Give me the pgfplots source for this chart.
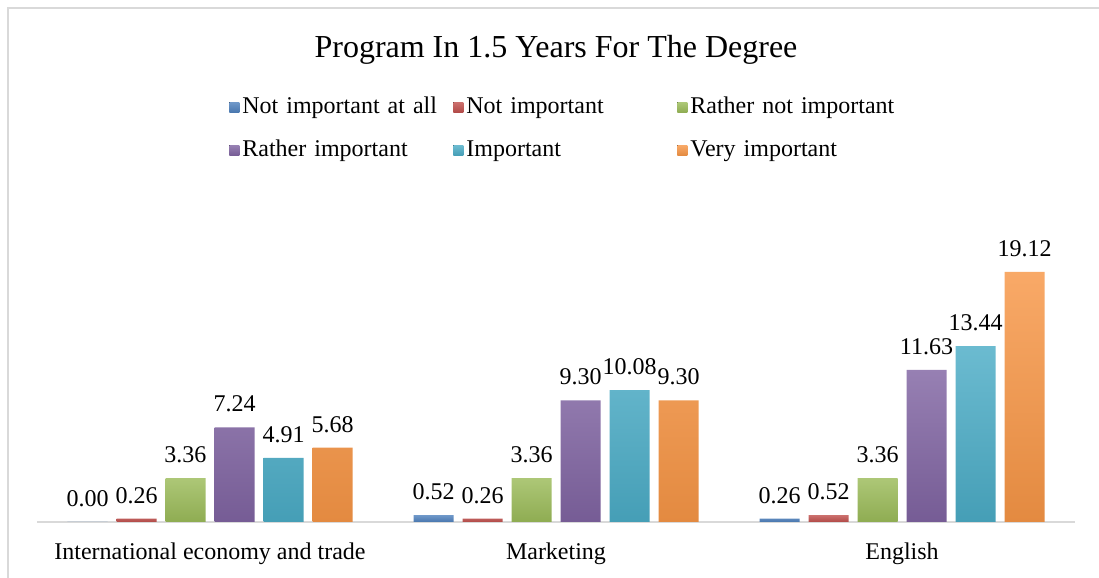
\documentclass[border=0pt]{standalone}
\usepackage{pgfplots}
\pgfplotsset{compat=1.18}
\usepackage{fontspec}
\setmainfont{Liberation Serif}
\definecolor{cBlue}{HTML}{4F81BD}
\definecolor{cRed}{HTML}{C0504D}
\definecolor{cGreen}{HTML}{9BBB59}
\definecolor{cPurple}{HTML}{8064A2}
\definecolor{cAqua}{HTML}{4BACC6}
\definecolor{cOrange}{HTML}{F79646}
\definecolor{cGrid}{HTML}{D9D9D9}
\begin{document}
\begin{tikzpicture}
\path[use as bounding box] (-18.5pt,-28pt) rectangle (531pt,261pt);
\draw[cGrid, line width=1.2pt] (-14.5pt,-40pt) -- (-14.5pt,257pt) -- (545pt,257pt);
\begin{axis}[
  scale only axis,
  width=519pt, height=163.5pt,
  xmin=-0.5, xmax=2.5,
  ymin=0, ymax=25,
  ybar=4.5pt,
  bar width=20pt,
  axis x line*=bottom,
  axis y line=none,
  x axis line style={-, cGrid, line width=1.2pt},
  xtick={0,1,2},
  xticklabels={International economy and trade, Marketing, English},
  major tick length=0pt,
  xticklabel style={anchor=base, yshift=-19pt, font=\fontsize{12}{14}\selectfont},
  title={Program In 1.5 Years For The Degree},
  title style={at={(0.5,1.4067)}, anchor=center, font=\fontsize{16}{19}\selectfont},
  nodes near coords,
  nodes near coords style={font=\fontsize{12}{14}\selectfont, yshift=4pt, text=black},
  /pgf/number format/.cd, fixed, fixed zerofill, precision=2, assume math mode=true,
  /pgfplots/.cd,
  legend columns=3,
  legend style={draw=none, at={(0.1792,1.327)}, anchor=north west,
    font=\fontsize{12}{14}\selectfont,
    row sep=6.5pt, column sep=0pt,
    nodes={text width=104pt, align=left, text height=8.5pt, text depth=2.5pt, inner xsep=1.5pt, inner ysep=2pt}},
  legend image code/.code={\fill[#1] (0pt,-2.5pt) rectangle (5pt,2.5pt);},
]
\addplot[draw=none, top color=cBlue!82!white, bottom color=cBlue!92!black] coordinates {(0,0.00) (1,0.52) (2,0.26)};
\addplot[draw=none, top color=cRed!82!white, bottom color=cRed!92!black] coordinates {(0,0.26) (1,0.26) (2,0.52)};
\addplot[draw=none, top color=cGreen!82!white, bottom color=cGreen!92!black] coordinates {(0,3.36) (1,3.36) (2,3.36)};
\addplot[draw=none, top color=cPurple!82!white, bottom color=cPurple!92!black] coordinates {(0,7.24) (1,9.30) (2,11.63)};
\addplot[draw=none, top color=cAqua!82!white, bottom color=cAqua!92!black] coordinates {(0,4.91) (1,10.08) (2,13.44)};
\addplot[draw=none, top color=cOrange!82!white, bottom color=cOrange!92!black] coordinates {(0,5.68) (1,9.30) (2,19.12)};
\legend{Not important at all, Not important, Rather not important, Rather important, Important, Very important}
\end{axis}
\end{tikzpicture}
\end{document}
